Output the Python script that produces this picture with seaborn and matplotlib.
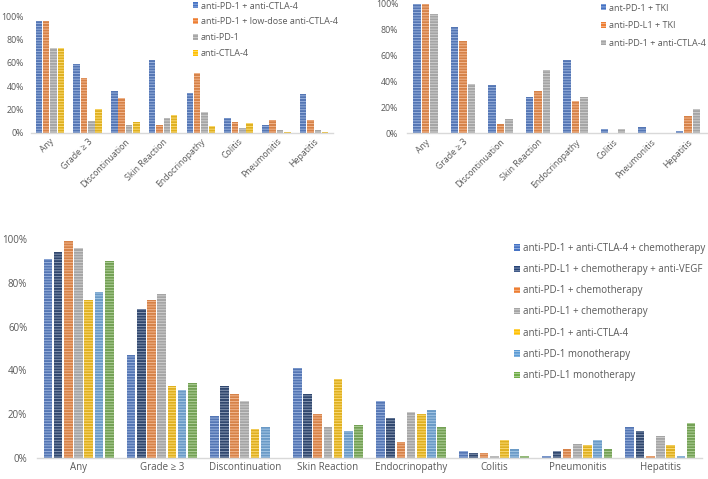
import matplotlib
matplotlib.use("Agg")
import matplotlib.pyplot as plt
import matplotlib.colors as mcolors
import seaborn as sns
import pandas as pd
import numpy as np
from matplotlib.ticker import PercentFormatter
from matplotlib.patches import Patch

# ---- data (percent of patients) ----
events = ["Any", "Grade \u2265 3", "Discontinuation", "Skin Reaction",
          "Endocrinopathy", "Colitis", "Pneumonitis", "Hepatitis"]

# top-left panel
tl_series = ["anti-PD-1 + anti-CTLA-4", "anti-PD-1 + low-dose anti-CTLA-4",
             "anti-PD-1", "anti-CTLA-4"]
tl_combo = [96, 59, 36, 62, 34, 13, 7, 33]
tl_lowdose = [96, 47, 30, 7, 51, 9, 11, 11]
tl_pd1 = [73, 10, 7, 13, 18, 4, 2, 2]
tl_ctla4 = [73, 20, 9, 15, 6, 8, 1, 1]

# top-right panel
tr_series = ["ant-PD-1 + TKI", "anti-PD-L1 + TKI", "anti-PD-1 + anti-CTLA-4"]
tr_pd1_tki = [100, 82, 37, 28, 57, 3, 5, 1.5]
tr_pdl1_tki = [100, 71, 7, 33, 25, 0, 0, 13]
tr_combo = [92, 38, 11, 49, 28, 3.5, 0, 19]

# bottom panel
b_series = ["anti-PD-1 + anti-CTLA-4 + chemotherapy",
            "anti-PD-L1 + chemotherapy + anti-VEGF",
            "anti-PD-1 + chemotherapy",
            "anti-PD-L1 + chemotherapy",
            "anti-PD-1 + anti-CTLA-4",
            "anti-PD-1 monotherapy",
            "anti-PD-L1 monotherapy"]
b_pd1_ctla4_chemo = [91, 47, 19, 41, 26, 3, 1, 14]
b_pdl1_chemo_vegf = [94, 68, 33, 29, 18, 2, 3, 12]
b_pd1_chemo = [99, 72, 29, 20, 7, 2, 4, 1]
b_pdl1_chemo = [96, 75, 26, 14, 21, 1, 6.3, 10]
b_pd1_ctla4 = [72, 33, 13, 36, 20, 8, 5.7, 6]
b_pd1_mono = [76, 31, 14, 12, 22, 4, 8, 1]
b_pdl1_mono = [90, 34, 0, 15, 14, 1, 4, 16]

BLUE, ORANGE, GRAY, YELLOW = "#4472C4", "#ED7D31", "#A5A5A5", "#FFC000"
DARKBLUE, LIGHTBLUE, GREEN = "#264478", "#5B9BD5", "#70AD47"
TXT = "#595959"

sns.set_theme(style="white")
plt.rcParams["font.family"] = ["Open Sans", "DejaVu Sans"]
plt.rcParams["hatch.linewidth"] = 0.6


def lighter(c, amt=0.5):
    rgb = np.array(mcolors.to_rgb(c))
    return tuple(rgb + (1 - rgb) * amt)


def stripe(patch, color):
    # Excel-style horizontal light stripes over the bar colour
    light = lighter(color, 0.5)
    patch.set_linewidth(0)
    patch.set_hatch("------")
    patch.set_edgecolor(light)
    if hasattr(patch, "set_hatchcolor"):
        patch.set_hatchcolor(light)


def long_df(series, values):
    rows = []
    for name, vals in zip(series, values):
        for ev, v in zip(events, vals):
            rows.append({"event": ev, "group": name, "pct": v})
    return pd.DataFrame(rows)


def draw(ax, series, values, colors, width, gap, rotate, fs, ypad):
    df = long_df(series, values)
    sns.barplot(data=df, x="event", y="pct", hue="group", order=events,
                hue_order=series, palette=colors, width=width, gap=gap,
                legend=False, ax=ax)
    for cont, col in zip(ax.containers, colors):
        for bar in cont:
            stripe(bar, col)
    ax.set_ylim(0, 100)
    ax.set_xlim(-0.5, len(events) - 0.5)
    ax.set_yticks([0, 20, 40, 60, 80, 100])
    ax.yaxis.set_major_formatter(PercentFormatter(decimals=0))
    ax.set_xlabel("")
    ax.set_ylabel("")
    for s in ["top", "right", "left"]:
        ax.spines[s].set_visible(False)
    ax.spines["bottom"].set_color("#D9D9D9")
    ax.spines["bottom"].set_linewidth(1)
    ax.tick_params(axis="both", length=0, colors=TXT, labelsize=fs)
    ax.tick_params(axis="y", pad=ypad)
    ax.tick_params(axis="x", pad=3)
    if rotate:
        plt.setp(ax.get_xticklabels(), rotation=45, ha="right",
                 rotation_mode="anchor")
    handles = []
    for c in colors:
        p = Patch(facecolor=c)
        stripe(p, c)
        handles.append(p)
    return handles


fig = plt.figure(figsize=(7.08, 4.79), dpi=100)
W, H = 708, 479


def add_axes(x0, x1, ytop, ybot):
    return fig.add_axes([x0 / W, 1 - ybot / H, (x1 - x0) / W, (ybot - ytop) / H])


# top-left
ax1 = add_axes(31, 333, 16, 132.7)
h1 = draw(ax1, tl_series, [tl_combo, tl_lowdose, tl_pd1, tl_ctla4],
          [BLUE, ORANGE, GRAY, YELLOW], 0.78, 0.12, True, 6.3, 5)
fig.legend(h1, tl_series, loc="upper left", bbox_to_anchor=(188 / W, 1 + 3 / H),
           frameon=False, fontsize=6.5, handlelength=0.6, handleheight=0.6,
           handletextpad=0.3, labelspacing=0.75, borderpad=0, labelcolor=TXT)

# top-right
ax2 = add_axes(406.5, 707, 4, 133.3)
h2 = draw(ax2, tr_series, [tr_pd1_tki, tr_pdl1_tki, tr_combo],
          [BLUE, ORANGE, GRAY], 0.68, 0.12, True, 6.3, 6)
fig.legend(h2, tr_series, loc="upper left", bbox_to_anchor=(596 / W, 1 + 1 / H),
           frameon=False, fontsize=6.5, handlelength=0.6, handleheight=0.6,
           handletextpad=0.3, labelspacing=0.95, borderpad=0, labelcolor=TXT)

# bottom
ax3 = add_axes(37, 702, 239.3, 457.7)
h3 = draw(ax3, b_series,
          [b_pd1_ctla4_chemo, b_pdl1_chemo_vegf, b_pd1_chemo, b_pdl1_chemo,
           b_pd1_ctla4, b_pd1_mono, b_pdl1_mono],
          [BLUE, DARKBLUE, ORANGE, GRAY, YELLOW, LIGHTBLUE, GREEN],
          0.86, 0.15, False, 7, 7)
fig.legend(h3, b_series, loc="upper left", bbox_to_anchor=(509 / W, 1 - 238 / H),
           frameon=False, fontsize=7, handlelength=0.6, handleheight=0.6,
           handletextpad=0.3, labelspacing=1.05, borderpad=0, labelcolor=TXT)

fig.savefig("out.png", dpi=100)
